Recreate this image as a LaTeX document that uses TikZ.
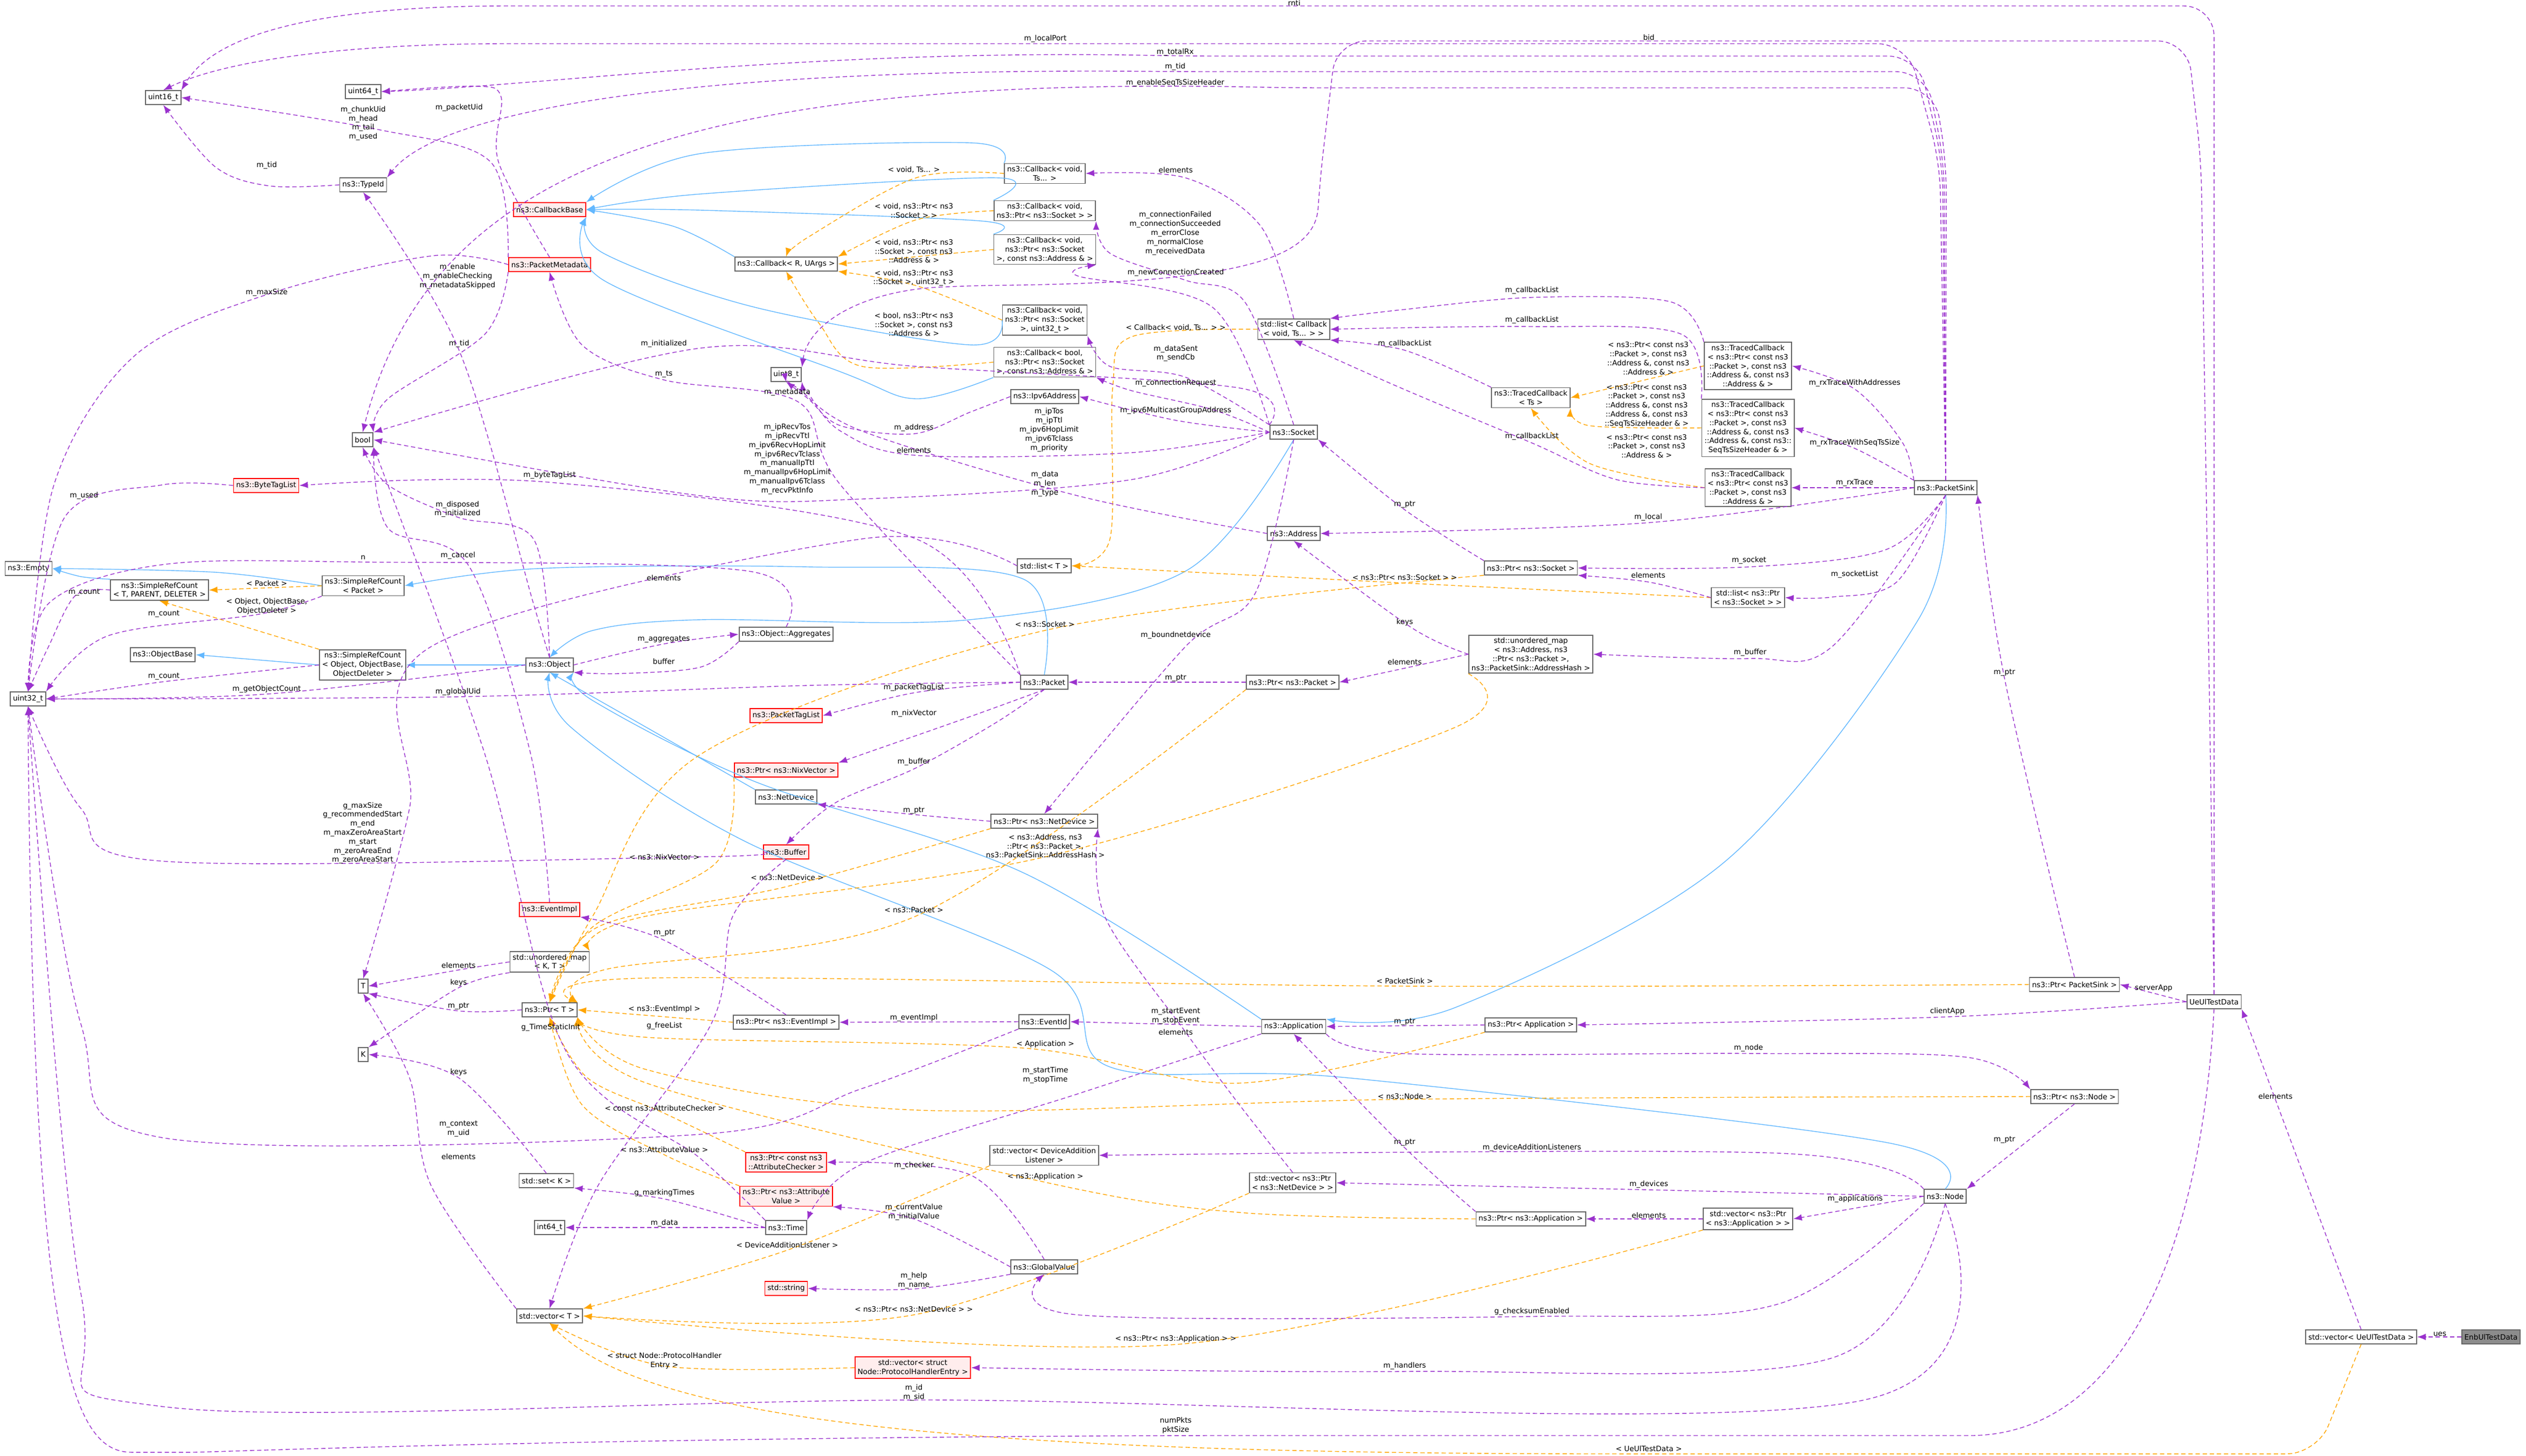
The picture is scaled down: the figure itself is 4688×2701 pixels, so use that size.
\documentclass[tikz,border=0pt]{standalone}
\usepackage{fontspec}
\setmainfont{DejaVu Sans}
\usetikzlibrary{arrows.meta}
\definecolor{usec}{RGB}{154,50,205}
\definecolor{tmplc}{RGB}{255,165,0}
\definecolor{inhc}{RGB}{99,184,255}
\tikzset{
 box/.style={draw=black!60,line width=0.45pt,fill=white,inner sep=1.2pt,minimum height=6.4pt,align=center,font=\fontsize{3.4}{4.2}\selectfont},
 rbox/.style={box,draw=red,fill=red!7},
 gbox/.style={box,fill=black!45,draw=black!60},
 lab/.style={inner sep=0pt,align=center,font=\fontsize{3.4}{4.2}\selectfont},
 use/.style={draw=usec,line width=0.35pt,dash pattern=on 2pt off 1.3pt,-{Latex[length=4pt,width=3pt]}},
 tmpl/.style={draw=tmplc,line width=0.35pt,dash pattern=on 2pt off 1.3pt,-{Latex[length=4pt,width=3pt]}},
 inh/.style={draw=inhc,line width=0.35pt,-{Latex[length=4pt,width=3pt]}},
}
\newcommand\EDG[2]{\draw[#1] plot[smooth,tension=.55] coordinates {#2};}
\newcommand\EDGR[2]{\draw[#1,rounded corners=14pt] #2;}
\newcommand\LBL[2]{\node[lab] at (#1) {#2};}
\begin{document}
\begin{tikzpicture}[x=0.25pt,y=-0.25pt]
\useasboundingbox (0,0) rectangle (4688,2701);
% nodes
\node[box] (u16) at (303,181) {uint16\_t};
\node[box] (u64) at (674,170) {uint64\_t};
\node[box] (tid) at (674,343) {ns3::TypeId};
\node[rbox] (cbb) at (1020,389) {ns3::CallbackBase};
\node[rbox] (pmd) at (1020,491) {ns3::PacketMetadata};
\node[box] (bool) at (673,816) {bool};
\node[rbox] (btl) at (494,901) {ns3::ByteTagList};
\node[box] (empty) at (53,1055) {ns3::Empty};
\node[box] (srct) at (296,1095) {ns3::SimpleRefCount\\< T, PARENT, DELETER >};
\node[box] (srcp) at (674,1087) {ns3::SimpleRefCount\\< Packet >};
\node[box] (ob) at (302,1215) {ns3::ObjectBase};
\node[box] (srco) at (673,1234) {ns3::SimpleRefCount\\< Object, ObjectBase,\\ ObjectDeleter >};
\node[box] (obj) at (1020,1234) {ns3::Object};
\node[box] (agg) at (1459,1177) {ns3::Object::Aggregates};
\node[box] (u32) at (52,1297) {uint32\_t};
\node[box] (cbr) at (1459,490) {ns3::Callback< R, UArgs >};
\node[box] (u8) at (1459,695) {uint8\_t};
\node[rbox] (ptl) at (1459,1328) {ns3::PacketTagList};
\node[box] (cb1) at (1939,322) {ns3::Callback< void,\\ Ts... >};
\node[box] (cb2) at (1939,391) {ns3::Callback< void,\\ ns3::Ptr< ns3::Socket > >};
\node[box] (cb3) at (1939,463) {ns3::Callback< void,\\ ns3::Ptr< ns3::Socket\\ >, const ns3::Address \& >};
\node[box] (cb4) at (1939,594) {ns3::Callback< void,\\ ns3::Ptr< ns3::Socket\\ >, uint32\_t >};
\node[box] (cb5) at (1939,672) {ns3::Callback< bool,\\ ns3::Ptr< ns3::Socket\\ >, const ns3::Address \& >};
\node[box] (ip6) at (1939,736) {ns3::Ipv6Address};
\node[box] (lcb) at (2401,611) {std::list< Callback\\< void, Ts... > >};
\node[box] (sock) at (2401,802) {ns3::Socket};
\node[box] (tct) at (2841,738) {ns3::TracedCallback\\< Ts >};
\node[box] (addr) at (2401,990) {ns3::Address};
\node[box] (lt) at (1938,1050) {std::list< T >};
\node[box] (psock) at (2841,1054) {ns3::Ptr< ns3::Socket >};
\node[box] (umap) at (2841,1214) {std::unordered\_map\\< ns3::Address, ns3\\::Ptr< ns3::Packet >,\\ ns3::PacketSink::AddressHash >};
\node[box] (pkt) at (1938,1266) {ns3::Packet};
\node[box] (ppkt) at (2399,1266) {ns3::Ptr< ns3::Packet >};
\node[box] (tc1) at (3244,679) {ns3::TracedCallback\\< ns3::Ptr< const ns3\\::Packet >, const ns3\\::Address \&, const ns3\\::Address \& >};
\node[box] (tc2) at (3244,794) {ns3::TracedCallback\\< ns3::Ptr< const ns3\\::Packet >, const ns3\\::Address \&, const ns3\\::Address \&, const ns3::\\SeqTsSizeHeader \& >};
\node[box] (tc3) at (3244,905) {ns3::TracedCallback\\< ns3::Ptr< const ns3\\::Packet >, const ns3\\::Address \& >};
\node[box] (psink) at (3611,905) {ns3::PacketSink};
\node[box] (lps) at (3244,1109) {std::list< ns3::Ptr\\< ns3::Socket > >};
\node[rbox] (pnix) at (1459,1429) {ns3::Ptr< ns3::NixVector >};
\node[box] (nd) at (1459,1479) {ns3::NetDevice};
\node[rbox] (buf) at (1459,1581) {ns3::Buffer};
\node[rbox] (evi) at (1020,1688) {ns3::EventImpl};
\node[box] (umkt) at (1020,1785) {std::unordered\_map\\< K, T >};
\node[box] (T) at (674,1830) {T};
\node[box] (ptrt) at (1020,1874) {ns3::Ptr< T >};
\node[box] (pevi) at (1459,1897) {ns3::Ptr< ns3::EventImpl >};
\node[box] (K) at (674,1957) {K};
\node[rbox] (pac) at (1459,2157) {ns3::Ptr< const ns3\\::AttributeChecker >};
\node[box] (setk) at (1014,2191) {std::set< K >};
\node[rbox] (pav) at (1459,2220) {ns3::Ptr< ns3::Attribute\\Value >};
\node[box] (i64) at (1020,2278) {int64\_t};
\node[box] (time) at (1459,2278) {ns3::Time};
\node[rbox] (str) at (1459,2391) {std::string};
\node[box] (vect) at (1020,2442) {std::vector< T >};
\node[box] (pnd) at (1938,1524) {ns3::Ptr< ns3::NetDevice >};
\node[box] (eid) at (1938,1896) {ns3::EventId};
\node[box] (app) at (2401,1905) {ns3::Application};
\node[box] (papp) at (2841,1902) {ns3::Ptr< Application >};
\node[box] (vdal) at (1938,2144) {std::vector< DeviceAddition\\Listener >};
\node[box] (vpnd) at (2399,2195) {std::vector< ns3::Ptr\\< ns3::NetDevice > >};
\node[box] (pnsapp) at (2841,2262) {ns3::Ptr< ns3::Application >};
\node[box] (gv) at (1938,2351) {ns3::GlobalValue};
\node[rbox] (vphe) at (1694,2538) {std::vector< struct\\ Node::ProtocolHandlerEntry >};
\node[box] (ppsink) at (3850,1827) {ns3::Ptr< PacketSink >};
\node[box] (ue) at (4109,1859) {UeUlTestData};
\node[box] (pnode) at (3850,2035) {ns3::Ptr< ns3::Node >};
\node[box] (node) at (3610,2220) {ns3::Node};
\node[box] (vpapp) at (3244,2262) {std::vector< ns3::Ptr\\< ns3::Application > >};
\node[box] (vue) at (4382,2481) {std::vector< UeUlTestData >};
\node[gbox] (enb) at (4623,2481) {EnbUlTestData};
% ---- inheritance
\EDG{inh}{(srct.north west) (150,1070) (empty.east)}
\EDG{inh}{(srcp.west) (400,1062) (empty.east)}
\EDG{inh}{(srco.west) (ob.east)}
\EDG{inh}{(obj.west) (srco.east)}
\EDG{inh}{(pkt.north) (1900,1075) (1500,1052) (1000,1055) (srcp.east)}
\EDG{inh}{(cbr.north west) (1250,420) (cbb.east)}
\EDG{inh}{(cb1.north west) (1800,265) (1300,285) (cbb.north east)}
\EDG{inh}{(cb2.north west) (1850,330) (1300,360) (cbb.east)}
\EDG{inh}{(cb3.north west) (1820,410) (1300,390) (cbb.east)}
\EDG{inh}{(cb4.west) (1800,640) (1400,570) (1120,470) (cbb.south east)}
\EDG{inh}{(cb5.south west) (1700,740) (1560,690) (1120,520) (cbb.south east)}
\EDG{inh}{(sock.south) (2200,1060) (1800,1150) (1300,1150) (1100,1170) (obj.north)}
\EDG{inh}{(app.north west) (1900,1620) (1400,1450) (1100,1300) (obj.south east)}
\EDG{inh}{(nd.north west) (1200,1350) (obj.south)}
\EDG{inh}{(node.north) (3500,2120) (2500,2000) (2060,1980) (1950,1800) (1380,1560) (1060,1350) (obj.south)}
\EDG{inh}{(psink.south) (3560,1150) (3200,1600) (2700,1870) (app.north east)}
% ---- templates
\EDG{tmpl}{(cb1.west) (1700,330) (1500,440) (cbr.north)}
\EDG{tmpl}{(cb2.west) (1700,408) (cbr.north east)}
\EDG{tmpl}{(cb3.west) (cbr.east)}
\EDG{tmpl}{(cb4.west) (1700,530) (cbr.south east)}
\EDG{tmpl}{(cb5.west) (1600,680) (1520,600) (cbr.south)}
\EDG{tmpl}{(lcb.west) (2100,625) (2065,720) (2060,1000) (lt.east)}
\EDG{tmpl}{(lps.west) (2607,1082) (lt.east)}
\EDG{tmpl}{(tc1.west) (tct.east)}
\EDG{tmpl}{(tc2.west) (2950,790) (tct.south east)}
\EDG{tmpl}{(tc3.west) (2950,860) (tct.south)}
\EDG{tmpl}{(srcp.west) (srct.east)}
\EDG{tmpl}{(srco.north west) (srct.south)}
\EDG{tmpl}{(umap.south west) (2700,1350) (1940,1590) (1200,1700) (umkt.north east)}
\EDG{tmpl}{(psock.south west) (1939,1170) (1300,1400) (1100,1700) (ptrt.north)}
\EDG{tmpl}{(pnix.south west) (1330,1600) (1100,1720) (ptrt.north)}
\EDG{tmpl}{(pnd.south west) (1461,1645) (1110,1720) (ptrt.north)}
\EDG{tmpl}{(ppkt.south west) (1700,1700) (1120,1800) (ptrt.north east)}
\EDG{tmpl}{(ppsink.west) (2607,1830) (1200,1815) (ptrt.north east)}
\EDG{tmpl}{(pevi.west) (ptrt.east)}
\EDG{tmpl}{(papp.south west) (2300,2010) (1900,1945) (1200,1925) (ptrt.south east)}
\EDG{tmpl}{(pnode.west) (2607,2040) (1700,2060) (1200,1985) (ptrt.south east)}
\EDG{tmpl}{(pac.north west) (1233,2066) (1090,2000) (ptrt.south)}
\EDG{tmpl}{(pav.north west) (1233,2143) (1080,2050) (ptrt.south)}
\EDG{tmpl}{(pnsapp.west) (2300,2250) (1940,2194) (1200,2010) (ptrt.south east)}
\EDG{tmpl}{(vdal.south west) (1461,2320) (vect.north east)}
\EDG{tmpl}{(vpnd.south west) (1696,2440) (vect.east)}
\EDG{tmpl}{(vpapp.south west) (2182,2495) (vect.east)}
\EDG{tmpl}{(vphe.west) (1233,2535) (vect.south)}
\EDGR{tmpl}{(vue.south) -- (4300,2698) -- (3060,2698) .. controls (1800,2698) and (1200,2640) .. (vect.south)}
% ---- usage
\EDGR{use}{(ue.north) -- (4109,11) -- (1000,11) .. controls (600,11) and (400,60) .. (u16.north east)}
\EDGR{use}{(psink.north) -- (3600,300) -- (3540,81) -- (1000,81) .. controls (600,81) and (400,120) .. (u16.north)}
\EDGR{use}{(ue.north) -- (4085,300) -- (4060,76) -- (2480,76) -- (2450,330) .. controls (2440,480) and (2300,525) .. (1800,530) .. controls (1600,540) and (1500,600) .. (u8.north east)}
\EDGR{use}{(psink.north) -- (3605,300) -- (3560,104) -- (2200,104) .. controls (1500,90) and (1000,160) .. (u64.east)}
\EDGR{use}{(psink.north) -- (3608,300) -- (3575,133) -- (2200,133) .. controls (1300,125) and (820,200) .. (tid.north east)}
\EDGR{use}{(psink.north) -- (3612,300) -- (3590,163) -- (2400,163) .. controls (1300,140) and (800,300) .. (bool.north)}
\EDG{use}{(tid.west) (500,345) (400,310) (u16.south)}
\EDG{use}{(pmd.north west) (910,300) (700,240) (u16.east)}
\EDG{use}{(pmd.north) (925,300) (930,180) (880,160) (u64.east)}
\EDG{use}{(pmd.south west) (900,620) (720,740) (bool.north east)}
\EDG{use}{(pmd.west) (800,475) (500,545) (250,660) (100,900) (u32.north)}
\EDG{use}{(btl.west) (300,900) (120,960) (u32.north)}
\EDG{use}{(srct.west) (140,1105) (90,1200) (u32.north)}
\EDG{use}{(srcp.south west) (480,1140) (200,1180) (u32.north east)}
\EDG{use}{(srco.west) (304,1265) (u32.east)}
\EDG{use}{(obj.west) (495,1288) (u32.east)}
\EDG{use}{(pkt.west) (1500,1272) (850,1293) (u32.east)}
\EDG{use}{(obj.north) (990,1000) (850,960) (720,900) (bool.south)}
\EDG{use}{(obj.north) (990,1120) (852,650) (tid.south)}
\EDG{use}{(obj.east) (1232,1195) (agg.west)}
\EDG{use}{(agg.south west) (1300,1238) (1150,1250) (obj.south east)}
\EDG{use}{(agg.north) (1390,1060) (674,1043) (300,1048) (90,1120) (u32.north)}
\EDG{use}{(evi.north) (985,1400) (870,1050) (720,980) (bool.south east)}
\EDG{use}{(sock.west) (2100,890) (1600,926) (1300,920) (bool.east)}
\EDG{use}{(sock.north west) (2300,720) (1700,680) (1300,646) (bool.north east)}
\EDG{use}{(pkt.north west) (1560,900) (1480,745) (1232,705) (1080,640) (pmd.south)}
\EDG{use}{(ip6.west) (1800,765) (1696,805) (1560,790) (1500,740) (u8.south)}
\EDG{use}{(sock.west) (2100,840) (1700,845) (1560,800) (1500,730) (u8.south east)}
\EDG{use}{(addr.west) (2000,920) (1600,800) (1480,720) (u8.south)}
\EDG{use}{(pkt.north west) (1700,1000) (1020,895) (btl.east)}
\EDG{use}{(pkt.west) (1700,1285) (ptl.east)}
\EDG{use}{(pkt.south) (1800,1330) (1600,1400) (pnix.north east)}
\EDG{use}{(pkt.south) (1850,1340) (1700,1425) (1550,1490) (buf.north)}
\EDG{use}{(buf.west) (1300,1590) (300,1598) (150,1500) (u32.south)}
\EDG{use}{(buf.south) (1360,1700) (1320,1900) (1110,2200) (vect.north)}
\EDG{use}{(pnd.west) (1700,1512) (nd.south east)}
\EDG{use}{(sock.south) (2330,1100) (2200,1200) (pnd.north)}
\EDG{use}{(sock.north) (2310,560) (2200,520) (2060,470) (cb2.south east)}
\EDG{use}{(sock.north west) (2250,570) (2000,512) (cb3.south east)}
\EDG{use}{(sock.north west) (2200,700) (2060,680) (cb4.south east)}
\EDG{use}{(sock.west) (2250,760) (2100,725) (cb5.south east)}
\EDG{use}{(sock.west) (2182,780) (ip6.east)}
\EDG{use}{(lcb.north) (2340,420) (2200,330) (cb1.east)}
\EDG{use}{(tc1.north west) (3100,560) (2843,552) (2600,575) (lcb.north east)}
\EDG{use}{(tc2.north west) (3120,620) (2843,606) (lcb.east)}
\EDG{use}{(tct.north west) (2607,650) (lcb.south east)}
\EDG{use}{(tc3.west) (3000,890) (2843,822) (2600,720) (lcb.south)}
\EDG{use}{(psink.north west) (3530,820) (3442,722) (tc1.east)}
\EDG{use}{(psink.north west) (3442,832) (tc2.east)}
\EDG{use}{(psink.west) (tc3.east)}
\EDG{use}{(psink.west) (3059,970) (addr.east)}
\EDG{use}{(psink.south) (3500,1020) (3246,1052) (psock.east)}
\EDG{use}{(psink.south) (3520,1080) (3400,1108) (lps.east)}
\EDG{use}{(lps.west) (3059,1080) (psock.south east)}
\EDG{use}{(psock.north west) (2607,946) (sock.south east)}
\EDG{use}{(psink.south) (3400,1200) (3248,1222) (umap.east)}
\EDG{use}{(umap.west) (2620,1165) (addr.south)}
\EDG{use}{(umap.west) (2607,1240) (ppkt.east)}
\EDG{use}{(ppkt.west) (pkt.east)}
\EDG{use}{(ppsink.north) (3720,1258) (psink.south east)}
\EDG{use}{(ue.west) (ppsink.east)}
\EDG{use}{(ue.west) (3614,1887) (papp.east)}
\EDG{use}{(papp.west) (app.east)}
\EDG{use}{(app.south east) (2600,1955) (3245,1955) (3650,1962) (pnode.north west)}
\EDG{use}{(pnode.south) (node.north east)}
\EDG{use}{(app.west) (eid.east)}
\EDG{use}{(app.south west) (2000,2030) (1600,2160) (time.north east)}
\EDG{use}{(eid.west) (pevi.east)}
\EDG{use}{(eid.south west) (1600,2020) (1300,2105) (300,2111) (150,1900) (u32.south)}
\EDG{use}{(pevi.north) (1233,1745) (evi.south east)}
\EDG{use}{(node.north west) (3300,2140) (vdal.east)}
\EDG{use}{(node.west) (3060,2208) (vpnd.east)}
\EDG{use}{(node.west) (vpapp.east)}
\EDG{use}{(vpapp.west) (pnsapp.east)}
\EDG{use}{(pnsapp.north west) (2607,2130) (app.south)}
\EDG{use}{(vpnd.north) (2300,2050) (2200,1915) (2050,1700) (pnd.south east)}
\EDG{use}{(node.south west) (3300,2420) (2843,2443) (2000,2440) (gv.south)}
\EDG{use}{(node.south) (3400,2520) (2607,2545) (vphe.east)}
\EDG{use}{(node.south) (3450,2600) (1700,2598) (300,2610) (150,2400) (u32.south)}
\EDGR{use}{(ue.south) .. controls (4080,2400) and (3900,2664) .. (3600,2664) -- (2182,2664) .. controls (1000,2670) and (400,2695) .. (300,2695) .. controls (130,2695) and (60,2500) .. (u32.south)}
\EDG{use}{(gv.north) (1800,2180) (pac.east)}
\EDG{use}{(gv.west) (1696,2262) (pav.south east)}
\EDG{use}{(gv.south west) (1696,2392) (str.east)}
\EDG{use}{(time.west) (1233,2225) (setk.south east)}
\EDG{use}{(time.west) (i64.east)}
\EDG{use}{(time.north west) (1300,2150) (1050,1950) (900,1400) (bool.south east)}
\EDG{use}{(umkt.west) (851,1800) (T.east)}
\EDG{use}{(umkt.south west) (851,1833) (K.north east)}
\EDG{use}{(ptrt.west) (851,1876) (T.south east)}
\EDG{use}{(setk.north) (851,2000) (K.east)}
\EDG{use}{(vect.north west) (800,2200) (760,2000) (T.south)}
\EDG{use}{(lt.west) (1600,1000) (800,1200) (760,1500) (T.north)}
\EDG{use}{(vue.north) (ue.south east)}
\EDG{use}{(enb.west) (vue.east)}
% ---- labels
\LBL{2402,5}{rnti}
\LBL{1940,72}{m\_localPort}
\LBL{3060,69}{bid}
\LBL{2181,97}{m\_totalRx}
\LBL{2181,124}{m\_tid}
\LBL{2181,154}{m\_enableSeqTsSizeHeader}
\LBL{674,229}{m\_chunkUid\\m\_head\\m\_tail\\m\_used}
\LBL{852,200}{m\_packetUid}
\LBL{495,307}{m\_tid}
\LBL{495,543}{m\_maxSize}
\LBL{849,513}{m\_enable\\m\_enableChecking\\m\_metadataSkipped}
\LBL{852,638}{m\_tid}
\LBL{1232,638}{m\_initialized}
\LBL{1232,694}{m\_ts}
\LBL{1461,728}{m\_metadata}
\LBL{1461,852}{m\_ipRecvTos\\m\_ipRecvTtl\\m\_ipv6RecvHopLimit\\m\_ipv6RecvTclass\\m\_manualIpTtl\\m\_manualIpv6HopLimit\\m\_manualIpv6Tclass\\m\_recvPktInfo}
\LBL{1020,882}{m\_byteTagList}
\LBL{156,920}{m\_used}
\LBL{849,945}{m\_disposed\\m\_initialized}
\LBL{674,1035}{n}
\LBL{850,1031}{m\_cancel}
\LBL{1232,1072}{elements}
\LBL{156,1099}{m\_count}
\LBL{495,1082}{< Packet >}
\LBL{495,1125}{< Object, ObjectBase,\\ObjectDeleter >}
\LBL{304,1139}{m\_count}
\LBL{1232,1186}{m\_aggregates}
\LBL{1232,1227}{buffer}
\LBL{304,1255}{m\_count}
\LBL{495,1279}{m\_getObjectCount}
\LBL{850,1284}{m\_globalUid}
\LBL{1696,315}{< void, Ts... >}
\LBL{2182,315}{elements}
\LBL{1696,391}{< void, ns3::Ptr< ns3\\::Socket > >}
\LBL{2181,433}{m\_connectionFailed\\m\_connectionSucceeded\\m\_errorClose\\m\_normalClose\\m\_receivedData}
\LBL{1696,466}{< void, ns3::Ptr< ns3\\::Socket >, const ns3\\::Address \& >}
\LBL{2182,506}{m\_newConnectionCreated}
\LBL{1696,516}{< void, ns3::Ptr< ns3\\::Socket >, uint32\_t >}
\LBL{1696,602}{< bool, ns3::Ptr< ns3\\::Socket >, const ns3\\::Address \& >}
\LBL{2182,608}{< Callback< void, Ts... > >}
\LBL{2182,656}{m\_dataSent\\m\_sendCb}
\LBL{2843,539}{m\_callbackList}
\LBL{2843,594}{m\_callbackList}
\LBL{2607,638}{m\_callbackList}
\LBL{2843,810}{m\_callbackList}
\LBL{2182,711}{m\_connectionRequest}
\LBL{2182,762}{m\_ipv6MulticastGroupAddress}
\LBL{1696,794}{m\_address}
\LBL{1947,798}{m\_ipTos\\m\_ipTtl\\m\_ipv6HopLimit\\m\_ipv6Tclass\\m\_priority}
\LBL{1696,835}{elements}
\LBL{1939,898}{m\_data\\m\_len\\m\_type}
\LBL{2607,936}{m\_ptr}
\LBL{2607,1071}{< ns3::Ptr< ns3::Socket > >}
\LBL{1939,1158}{< ns3::Socket >}
\LBL{2607,1155}{keys}
\LBL{2182,1179}{m\_boundnetdevice}
\LBL{2607,1228}{elements}
\LBL{2182,1258}{m\_ptr}
\LBL{1696,1276}{m\_packetTagList}
\LBL{3059,665}{< ns3::Ptr< const ns3\\::Packet >, const ns3\\::Address \&, const ns3\\::Address \& >}
\LBL{3056,753}{< ns3::Ptr< const ns3\\::Packet >, const ns3\\::Address \&, const ns3\\::Address \&, const ns3\\::SeqTsSizeHeader \& >}
\LBL{3056,828}{< ns3::Ptr< const ns3\\::Packet >, const ns3\\::Address \& >}
\LBL{3442,711}{m\_rxTraceWithAddresses}
\LBL{3442,822}{m\_rxTraceWithSeqTsSize}
\LBL{3442,896}{m\_rxTrace}
\LBL{3059,960}{m\_local}
\LBL{3246,1040}{m\_socket}
\LBL{3059,1067}{elements}
\LBL{3442,1066}{m\_socketList}
\LBL{673,1546}{g\_maxSize\\g\_recommendedStart\\m\_end\\m\_maxZeroAreaStart\\m\_start\\m\_zeroAreaEnd\\m\_zeroAreaStart}
\LBL{1233,1590}{< ns3::NixVector >}
\LBL{1461,1628}{< ns3::NetDevice >}
\LBL{1233,1731}{m\_ptr}
\LBL{851,1791}{elements}
\LBL{851,1824}{keys}
\LBL{851,1867}{m\_ptr}
\LBL{1233,1873}{< ns3::EventImpl >}
\LBL{1233,1904}{g\_freeList}
\LBL{1022,1907}{g\_TimeStaticInit}
\LBL{851,1990}{keys}
\LBL{1233,2056}{< const ns3::AttributeChecker >}
\LBL{851,2095}{m\_context\\m\_uid}
\LBL{1233,2133}{< ns3::AttributeValue >}
\LBL{851,2146}{elements}
\LBL{1233,2214}{g\_markingTimes}
\LBL{1233,2270}{m\_data}
\LBL{1461,2310}{< DeviceAdditionListener >}
\LBL{1233,2525}{< struct Node::ProtocolHandler\\Entry >}
\LBL{1696,1324}{m\_nixVector}
\LBL{1696,1414}{m\_buffer}
\LBL{1696,1504}{m\_ptr}
\LBL{1940,1570}{< ns3::Address, ns3\\::Ptr< ns3::Packet >,\\ns3::PacketSink::AddressHash >}
\LBL{1696,1688}{< ns3::Packet >}
\LBL{2607,1820}{< PacketSink >}
\LBL{1696,1889}{m\_eventImpl}
\LBL{2182,1886}{m\_startEvent\\m\_stopEvent}
\LBL{2607,1896}{m\_ptr}
\LBL{2182,1915}{elements}
\LBL{1940,1938}{< Application >}
\LBL{1940,1995}{m\_startTime\\m\_stopTime}
\LBL{2607,2034}{< ns3::Node >}
\LBL{2607,2120}{m\_ptr}
\LBL{2843,2130}{m\_deviceAdditionListeners}
\LBL{1696,2163}{m\_checker}
\LBL{1940,2184}{< ns3::Application >}
\LBL{1696,2249}{m\_currentValue\\m\_initialValue}
\LBL{1696,2376}{m\_help\\m\_name}
\LBL{1696,2429}{< ns3::Ptr< ns3::NetDevice > >}
\LBL{2843,2434}{g\_checksumEnabled}
\LBL{2182,2485}{< ns3::Ptr< ns3::Application > >}
\LBL{2607,2535}{m\_handlers}
\LBL{1696,2584}{m\_id\\m\_sid}
\LBL{2182,2645}{numPkts\\pktSize}
\LBL{3248,1211}{m\_buffer}
\LBL{3720,1248}{m\_ptr}
\LBL{3997,1834}{serverApp}
\LBL{3614,1877}{clientApp}
\LBL{3245,1945}{m\_node}
\LBL{3720,2115}{m\_ptr}
\LBL{3060,2198}{m\_devices}
\LBL{3443,2225}{m\_applications}
\LBL{3060,2255}{elements}
\LBL{4223,2034}{elements}
\LBL{4528,2476}{ues}
\LBL{3060,2688}{< UeUlTestData >}
\end{tikzpicture}
\end{document}
